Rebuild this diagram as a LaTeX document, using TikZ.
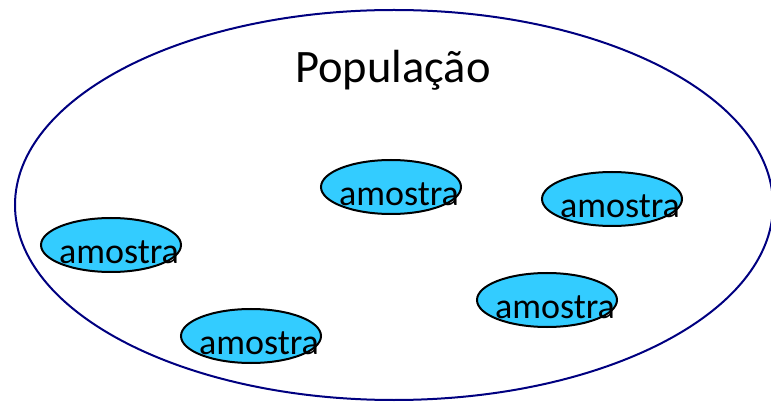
\documentclass[tikz,border=0pt]{standalone}
\usepackage{fontspec}
\setmainfont{Carlito}
\usetikzlibrary{shapes.geometric}
\definecolor{amostracor}{HTML}{33CCFF}
\definecolor{popcor}{HTML}{000080}
\tikzset{
  popbox/.style = {ellipse, draw = popcor, line width = 2pt, minimum width = 758pt, minimum height = 390pt, inner sep = 0pt},
  amostrabox/.style = {ellipse, draw = black, line width = 2pt, fill = amostracor, minimum width = 140pt, minimum height = 54pt, inner sep = 0pt},
  amostratxt/.style = {anchor = base, xshift = 8pt, yshift = -7pt, font = \fontsize{36}{40}\selectfont}
}

\begin{document}
\begin{tikzpicture}[x = 1pt, y = -1pt]
	\useasboundingbox (0,0) rectangle (771,403);
	\node[popbox] (pop) at (394,205) {};
	\node[anchor = base, font = \fontsize{46.5}{50}\selectfont] (titulo) at (393,83) {População};
	\node[amostrabox, label = {[amostratxt]center:amostra}] (a1) at (111,245) {};
	\node[amostrabox, label = {[amostratxt]center:amostra}] (a2) at (391,187) {};
	\node[amostrabox, label = {[amostratxt]center:amostra}] (a3) at (612,199) {};
	\node[amostrabox, label = {[amostratxt]center:amostra}] (a4) at (547,300) {};
	\node[amostrabox, label = {[amostratxt]center:amostra}] (a5) at (251,336) {};
\end{tikzpicture}
\end{document}
